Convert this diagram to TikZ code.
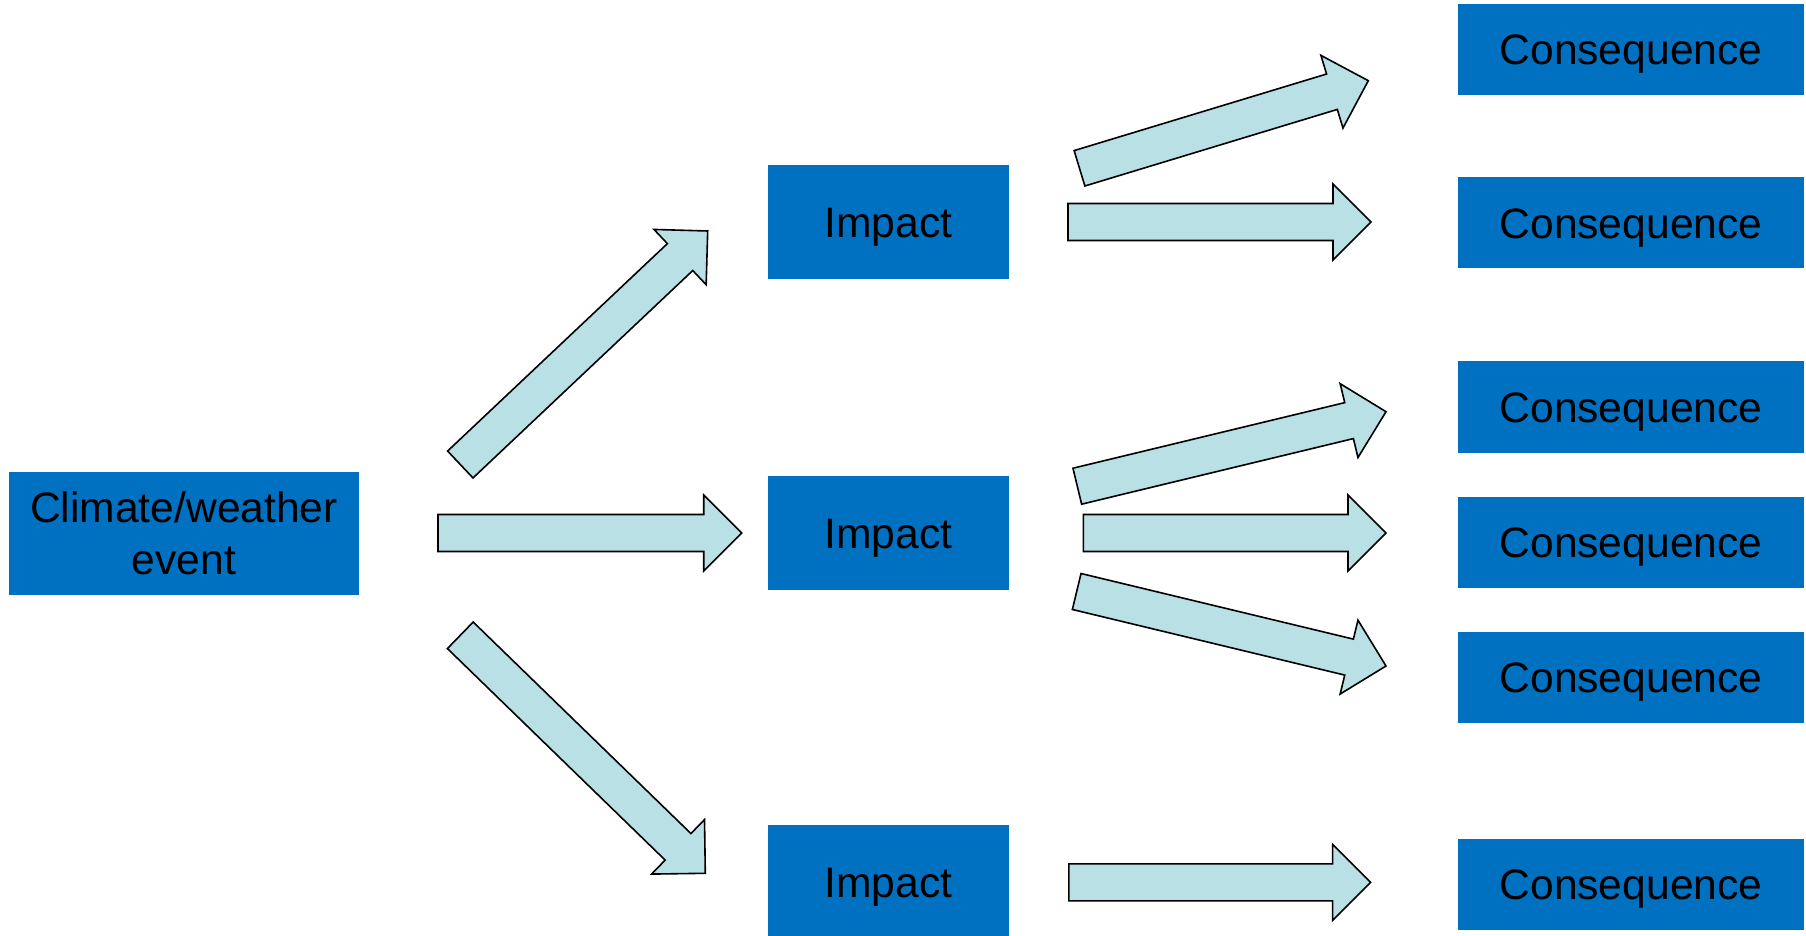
\documentclass[tikz,border=0pt]{standalone}
\usepackage{fontspec}
\setmainfont{Liberation Sans}
\usetikzlibrary{calc}
\definecolor{boxblue}{RGB}{0,112,192}
\definecolor{arrowfill}{RGB}{185,224,228}
\tikzset{
  bluebox/.style={fill=boxblue, draw=none, inner sep=0pt, align=center,
    font=\fontsize{21.3pt}{25.8pt}\selectfont, text=black},
  onebox/.style={bluebox, text height=15.2pt, text depth=0pt},
  arrowbody/.style={draw=black, fill=arrowfill, line width=0.8pt, line join=miter},
}
\newcommand\blkarrow[2]{%
  \coordinate (ba) at ($(#2)!19pt!(#1)$);
  \draw[arrowbody] ($(#1)!9.25pt!90:(#2)$) -- ($(ba)!9.25pt!90:(#2)$) --
    ($(ba)!19pt!90:(#2)$) -- (#2) -- ($(ba)!19pt!-90:(#2)$) --
    ($(ba)!9.25pt!-90:(#2)$) -- ($(#1)!9.25pt!-90:(#2)$) -- cycle;}
\begin{document}
\begin{tikzpicture}[x=0.5pt, y=-0.5pt]
\useasboundingbox (0,0) rectangle (1806,936);
% boxes
\node[bluebox, minimum width=175pt, minimum height=61.5pt] (ev) at (184,533.5) {Climate/weather\\event};
\foreach \n/\y in {i1/222, i2/533, i3/882}
  \node[onebox, minimum width=120.5pt, minimum height=57pt] (\n) at (888.5,\y) {Impact};
\foreach \n/\y in {c1/49.5, c2/223, c3/407, c4/542, c5/677.5, c6/884}
  \node[onebox, minimum width=173pt, minimum height=45.5pt] (\n) at (1631,\y) {Consequence};
% arrow end points
\coordinate (a1t) at (460.3,464.5);  \coordinate (a1h) at (707.7,231);
\coordinate (a2t) at (438,533);      \coordinate (a2h) at (741.7,533);
\coordinate (a3t) at (460.3,635.3);  \coordinate (a3h) at (705.3,873.3);
\coordinate (b1t) at (1079.5,168.3); \coordinate (b1h) at (1368.3,80.7);
\coordinate (b2t) at (1068,222);     \coordinate (b2h) at (1371,222);
\coordinate (b3t) at (1077.3,486.2); \coordinate (b3h) at (1386,411.7);
\coordinate (b4t) at (1083.3,533);   \coordinate (b4h) at (1386,533);
\coordinate (b5t) at (1076.7,591.5); \coordinate (b5h) at (1386,666);
\coordinate (b6t) at (1068.9,882.3); \coordinate (b6h) at (1370.6,882.3);
\blkarrow{a1t}{a1h}
\blkarrow{a2t}{a2h}
\blkarrow{a3t}{a3h}
\blkarrow{b1t}{b1h}
\blkarrow{b2t}{b2h}
\blkarrow{b3t}{b3h}
\blkarrow{b4t}{b4h}
\blkarrow{b5t}{b5h}
\blkarrow{b6t}{b6h}
\end{tikzpicture}
\end{document}
